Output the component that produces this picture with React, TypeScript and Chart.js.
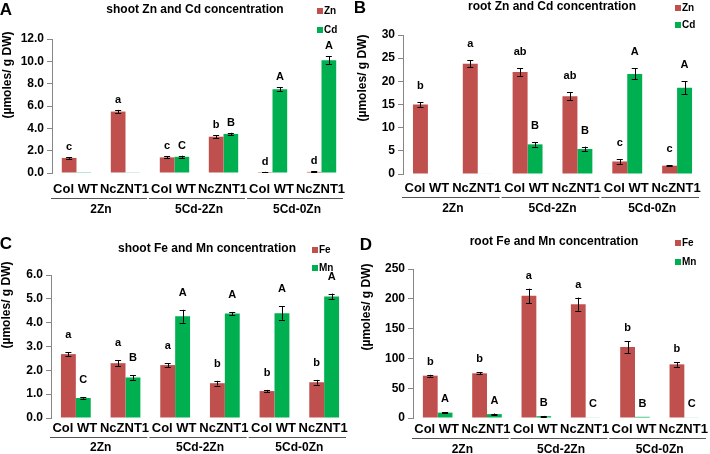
import React, { useEffect, useRef } from 'react';
import { Chart, registerables } from 'chart.js';
Chart.register(...registerables);

const FONT = '"Liberation Sans", Arial, sans-serif';
const RED = '#C0504D';
const GREEN = '#00B050';

const categories = ['Col WT', 'NcZNT1', 'Col WT', 'NcZNT1', 'Col WT', 'NcZNT1'];
const groups = ['2Zn', '5Cd-2Zn', '5Cd-0Zn'];
const yAxisTitle = '(\u00B5moles/ g DW)';

// A: shoot Zn and Cd
const shootZn = [1.35, 5.5, 1.4, 3.25, 0.08, 0.1];
const shootZnErr = [0.08, 0.15, 0.1, 0.15, 0.02, 0.05];
const shootCd = [0.02, 0.03, 1.45, 3.5, 7.5, 10.1];
const shootCdErr = [0, 0, 0.1, 0.1, 0.2, 0.35];
const shootZnSig = ['c', 'a', 'c', 'b', 'd', 'd'];
const shootCdSig = ['', '', 'C', 'B', 'A', 'A'];

// B: root Zn and Cd
const rootZn = [15.0, 23.8, 22.0, 16.8, 2.7, 1.8];
const rootZnErr = [0.5, 0.8, 0.8, 0.9, 0.5, 0.15];
const rootCd = [0, 0.1, 6.4, 5.4, 21.6, 18.6];
const rootCdErr = [0, 0, 0.5, 0.5, 1.2, 1.4];
const rootZnSig = ['b', 'a', 'ab', 'ab', 'c', 'c'];
const rootCdSig = ['', '', 'B', 'B', 'A', 'A'];

// C: shoot Fe and Mn
const shootFe = [2.68, 2.3, 2.22, 1.46, 1.13, 1.5];
const shootFeErr = [0.08, 0.12, 0.08, 0.1, 0.05, 0.1];
const shootMn = [0.84, 1.7, 4.27, 4.38, 4.4, 5.1];
const shootMnErr = [0.03, 0.1, 0.27, 0.07, 0.28, 0.12];
const shootFeSig = ['a', 'a', 'a', 'b', 'b', 'b'];
const shootMnSig = ['C', 'B', 'A', 'A', 'A', 'A'];

// D: root Fe and Mn
const rootFe = [71, 75, 205, 191, 119, 90];
const rootFeErr = [1.5, 2, 12, 11, 10, 4];
const rootMn = [9, 6.5, 3, 1, 2, 1];
const rootMnErr = [1, 1, 0.5, 0, 0, 0];
const rootFeSig = ['b', 'b', 'a', 'a', 'b', 'b'];
const rootMnSig = ['A', 'A', 'B', 'C', 'B', 'C'];

type Layout = {
  left: number; right: number; top: number; bottom: number;
  catY: number; lineY: number; groupY: number;
  titleX: number; titleY: number;
  legendX: number; legendY: number[];
  letterX: number; letterY: number;
  yTitleX: number; yTitleY: number;
  sigGap: number;
};

type PanelCfg = {
  letter: string; title: string; names: string[];
  values: number[][]; errors: number[][]; sig: string[][];
  yMax: number; yStep: number; decimals: number; layout: Layout;
};

const W = 355;
const H = 227;

const panels: { cfg: PanelCfg; x: number; y: number }[] = [
  {
    x: 0, y: 0,
    cfg: {
      letter: 'A', title: 'shoot Zn and Cd concentration', names: ['Zn', 'Cd'],
      values: [shootZn, shootCd], errors: [shootZnErr, shootCdErr], sig: [shootZnSig, shootCdSig],
      yMax: 12, yStep: 2, decimals: 1,
      layout: { left: 52, right: 346, top: 39, bottom: 173, catY: 189, lineY: 198, groupY: 210,
        titleX: 195, titleY: 10, legendX: 317, legendY: [11, 30], letterX: 6, letterY: 10, yTitleX: 8, yTitleY: 75, sigGap: 7 },
    },
  },
  {
    x: 355, y: 0,
    cfg: {
      letter: 'B', title: 'root Zn and Cd concentration', names: ['Zn', 'Cd'],
      values: [rootZn, rootCd], errors: [rootZnErr, rootCdErr], sig: [rootZnSig, rootCdSig],
      yMax: 30, yStep: 5, decimals: 0,
      layout: { left: 48, right: 347, top: 35, bottom: 174, catY: 188, lineY: 197, groupY: 209,
        titleX: 197, titleY: 7, legendX: 320, legendY: [8, 25], letterX: 5, letterY: 8, yTitleX: 8, yTitleY: 78, sigGap: 13 },
    },
  },
  {
    x: 0, y: 227,
    cfg: {
      letter: 'C', title: 'shoot Fe and Mn concentration', names: ['Fe', 'Mn'],
      values: [shootFe, shootMn], errors: [shootFeErr, shootMnErr], sig: [shootFeSig, shootMnSig],
      yMax: 6, yStep: 1, decimals: 1,
      layout: { left: 51, right: 349, top: 48, bottom: 191, catY: 201, lineY: 210, groupY: 221,
        titleX: 207, titleY: 22, legendX: 312, legendY: [23, 41], letterX: 6, letterY: 17, yTitleX: 7, yTitleY: 78, sigGap: 14 },
    },
  },
  {
    x: 355, y: 227,
    cfg: {
      letter: 'D', title: 'root Fe and Mn concentration', names: ['Fe', 'Mn'],
      values: [rootFe, rootMn], errors: [rootFeErr, rootMnErr], sig: [rootFeSig, rootMnSig],
      yMax: 250, yStep: 50, decimals: 0,
      layout: { left: 58, right: 354, top: 42, bottom: 191, catY: 202, lineY: 211, groupY: 223,
        titleX: 199, titleY: 15, legendX: 320, legendY: [16, 35], letterX: 11, letterY: 18, yTitleX: 12, yTitleY: 80, sigGap: 10 },
    },
  },
];

function makeDecor(cfg: PanelCfg) {
  return {
    id: 'decor' + cfg.letter,
    afterDraw(chart: any) {
      const ctx = chart.ctx as CanvasRenderingContext2D;
      const xs = chart.scales.x;
      const ys = chart.scales.y;
      const L = cfg.layout;
      ctx.save();
      // error bars + significance letters
      for (let d = 0; d < 2; d++) {
        const meta = chart.getDatasetMeta(d);
        meta.data.forEach((bar: any, j: number) => {
          const v = cfg.values[d][j];
          const e = cfg.errors[d][j];
          const x = bar.x;
          if (e > 0) {
            const yt = ys.getPixelForValue(v + e);
            const yb = ys.getPixelForValue(Math.max(0, v - e));
            ctx.strokeStyle = '#000';
            ctx.lineWidth = 1;
            ctx.beginPath();
            ctx.moveTo(Math.round(x) + 0.5, yt);
            ctx.lineTo(Math.round(x) + 0.5, yb);
            ctx.moveTo(x - 3, Math.round(yt) + 0.5);
            ctx.lineTo(x + 3, Math.round(yt) + 0.5);
            ctx.moveTo(x - 3, Math.round(yb) + 0.5);
            ctx.lineTo(x + 3, Math.round(yb) + 0.5);
            ctx.stroke();
          }
          const s = cfg.sig[d][j];
          if (s) {
            ctx.fillStyle = '#000';
            ctx.font = `bold 11px ${FONT}`;
            ctx.textAlign = 'center';
            ctx.textBaseline = 'alphabetic';
            ctx.fillText(s, x, ys.getPixelForValue(v + e) - L.sigGap);
          }
        });
      }
      // category labels
      const cw = (xs.right - xs.left) / categories.length;
      ctx.fillStyle = '#000';
      ctx.font = `bold 13px ${FONT}`;
      ctx.textAlign = 'center';
      ctx.textBaseline = 'middle';
      categories.forEach((c, j) => ctx.fillText(c, xs.getPixelForValue(j) - 1, L.catY));
      // groups
      groups.forEach((g, k) => {
        const gl = xs.left + cw * 2 * k;
        ctx.strokeStyle = '#555';
        ctx.lineWidth = 1;
        ctx.beginPath();
        ctx.moveTo(gl - 1, L.lineY + 0.5);
        ctx.lineTo(gl + cw * 2 - 3, L.lineY + 0.5);
        ctx.stroke();
        ctx.fillStyle = '#000';
        ctx.font = `bold 12px ${FONT}`;
        ctx.textAlign = 'center';
        ctx.textBaseline = 'middle';
        ctx.fillText(g, gl + cw, L.groupY);
      });
      // title
      ctx.font = `bold 12px ${FONT}`;
      ctx.fillText(cfg.title, L.titleX, L.titleY);
      // legend
      const colors = [RED, GREEN];
      cfg.names.forEach((n, i) => {
        ctx.fillStyle = colors[i];
        ctx.fillRect(L.legendX, L.legendY[i] - 3, 6, 6);
        ctx.fillStyle = '#000';
        ctx.font = `bold 10px ${FONT}`;
        ctx.textAlign = 'left';
        ctx.fillText(n, L.legendX + 7, L.legendY[i]);
      });
      // panel letter
      ctx.font = `bold 17px ${FONT}`;
      ctx.textAlign = 'center';
      ctx.fillText(cfg.letter, L.letterX, L.letterY);
      // y axis title
      ctx.translate(L.yTitleX, L.yTitleY);
      ctx.rotate(-Math.PI / 2);
      ctx.font = `bold 12px ${FONT}`;
      ctx.fillText(yAxisTitle, 0, 0);
      ctx.restore();
    },
  };
}

function Panel({ cfg }: { cfg: PanelCfg }) {
  const ref = useRef<HTMLCanvasElement>(null);
  useEffect(() => {
    const L = cfg.layout;
    const chart = new Chart(ref.current as HTMLCanvasElement, {
      type: 'bar',
      data: {
        labels: categories,
        datasets: [
          { label: cfg.names[0], data: cfg.values[0], backgroundColor: RED, borderWidth: 0 },
          { label: cfg.names[1], data: cfg.values[1], backgroundColor: GREEN, borderWidth: 0 },
        ],
      },
      options: {
        animation: false,
        responsive: false,
        devicePixelRatio: 1,
        layout: { padding: { left: 0, top: L.top, right: W - L.right, bottom: H - L.bottom } },
        plugins: { legend: { display: false }, tooltip: { enabled: false }, title: { display: false } },
        datasets: { bar: { categoryPercentage: 0.6, barPercentage: 1.0 } },
        scales: {
          x: { display: false },
          y: {
            min: 0,
            max: cfg.yMax,
            afterFit: (s: any) => { s.width = L.left; },
            ticks: {
              stepSize: cfg.yStep,
              callback: (v: any) => Number(v).toFixed(cfg.decimals),
              font: { family: FONT, size: 12, weight: 'bold' },
              color: '#000',
              padding: 3,
            },
            grid: { drawOnChartArea: false, drawTicks: true, tickLength: 5, color: '#868686' },
            border: { display: true, color: '#868686' },
          },
        },
      } as any,
      plugins: [makeDecor(cfg)],
    });
    return () => chart.destroy();
  }, [cfg]);
  return <canvas ref={ref} width={W} height={H} style={{ display: 'block', width: W, height: H }} />;
}

export default function App() {
  return (
    <div style={{ position: 'absolute', left: 0, top: 0, width: 710, height: 454, background: '#fff' }}>
      {panels.map((p, i) => (
        <div key={i} style={{ position: 'absolute', left: p.x, top: p.y, width: W, height: H }}>
          <Panel cfg={p.cfg} />
        </div>
      ))}
    </div>
  );
}
